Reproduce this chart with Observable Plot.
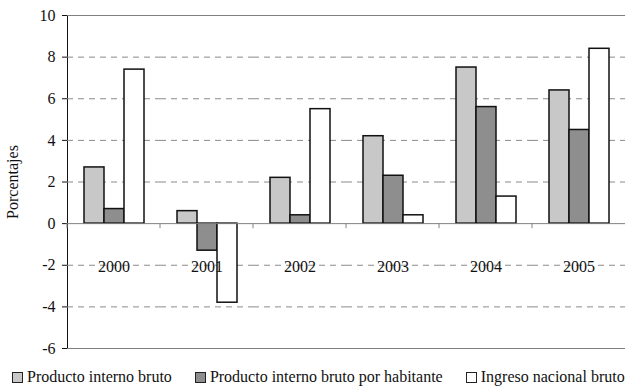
<!DOCTYPE html>
<html>
<head>
<meta charset="utf-8">
<script src="https://cdn.jsdelivr.net/npm/d3@7"></script>
<script src="https://cdn.jsdelivr.net/npm/@observablehq/plot@0.6"></script>
<style>
  html, body { margin: 0; padding: 0; background: #fff; }
  #chart { width: 627px; }
  .legend {
    display: flex; align-items: center; gap: 23px;
    height: 25px; box-sizing: border-box; padding: 5px 0 0 12px;
    font-family: "Liberation Serif", "DejaVu Serif", serif;
    font-size: 16px; color: #111;
    line-height: 20px; white-space: nowrap;
  }
  .legend span { display: inline-flex; align-items: center; }
  .legend i {
    display: inline-block; width: 9px; height: 9px; margin-right: 4px;
    border: 1.5px solid #222;
  }
</style>
</head>
<body>
<div id="chart"></div>
<script>
// Annual growth rates, in percent
const years = ["2000", "2001", "2002", "2003", "2004", "2005"];
const series = [
  "Producto interno bruto",
  "Producto interno bruto por habitante",
  "Ingreso nacional bruto"
];
const pib    = [2.7,  0.6, 2.2, 4.2, 7.5, 6.4];
const pibHab = [0.7, -1.3, 0.4, 2.3, 5.6, 4.5];
const inb    = [7.4, -3.8, 5.5, 0.4, 1.3, 8.4];
const yTicks = [-6, -4, -2, 0, 2, 4, 6, 8, 10];
const gridTicks = [-4, -2, 2, 4, 6, 8];
const colors = ["#c8c8c8", "#8e8e8e", "#ffffff"];

const values = [pib, pibHab, inb];
const data = years.flatMap((year, i) =>
  series.map((s, k) => ({year, series: s, value: values[k][i]}))
);

// short category ticks hanging below the zero line at each group boundary
function groupTicks(index, scales, channels, dimensions) {
  const y0 = scales.y(0);
  const x0 = dimensions.marginLeft;
  const g = d3.create("svg:g");
  g.append("line")
    .attr("x1", x0).attr("x2", x0)
    .attr("y1", y0).attr("y2", y0 + 5)
    .attr("stroke", "#808080");
  return g.node();
}

const chart = Plot.plot({
  width: 627,
  height: 362,
  marginTop: 15,
  marginBottom: 14,
  marginLeft: 65,
  marginRight: 0,
  style: {
    fontFamily: "Liberation Serif, DejaVu Serif, serif",
    fontSize: "16px",
    color: "#111",
    background: "#fff"
  },
  fx: {domain: years, padding: 0, axis: null},
  x: {domain: series, paddingInner: 0, paddingOuter: 0.74, axis: null},
  y: {
    domain: [-6, 10],
    ticks: yTicks,
    tickFormat: d => String(d),
    tickSize: 5,
    tickPadding: 7,
    line: true,
    label: "Porcentajes",
    labelAnchor: "center",
    labelOffset: 61,
    labelArrow: false
  },
  color: {domain: series, range: colors},
  marks: [
    Plot.ruleY(gridTicks, {stroke: "#8a8a8a", strokeDasharray: "6,5"}),
    Plot.ruleY([10, -6], {stroke: "#808080"}),
    Plot.barY(data, {
      fx: "year", x: "series", y: "value",
      fill: "series", stroke: "#111", strokeWidth: 1.5
    }),
    Plot.ruleY([0], {stroke: "#808080"}),
    groupTicks,
    Plot.text(years, {
      fx: d => d, text: d => d,
      frameAnchor: "bottom", lineAnchor: "middle", dy: -82,
      fontSize: 16, fill: "#111"
    })
  ]
});

document.getElementById("chart").append(chart);

// legend below the chart
const legend = d3.select("#chart").append("div").attr("class", "legend");
series.forEach((s, k) => {
  const item = legend.append("span");
  item.append("i").style("background", colors[k]);
  item.append("span").text(s);
});
</script>
</body>
</html>
